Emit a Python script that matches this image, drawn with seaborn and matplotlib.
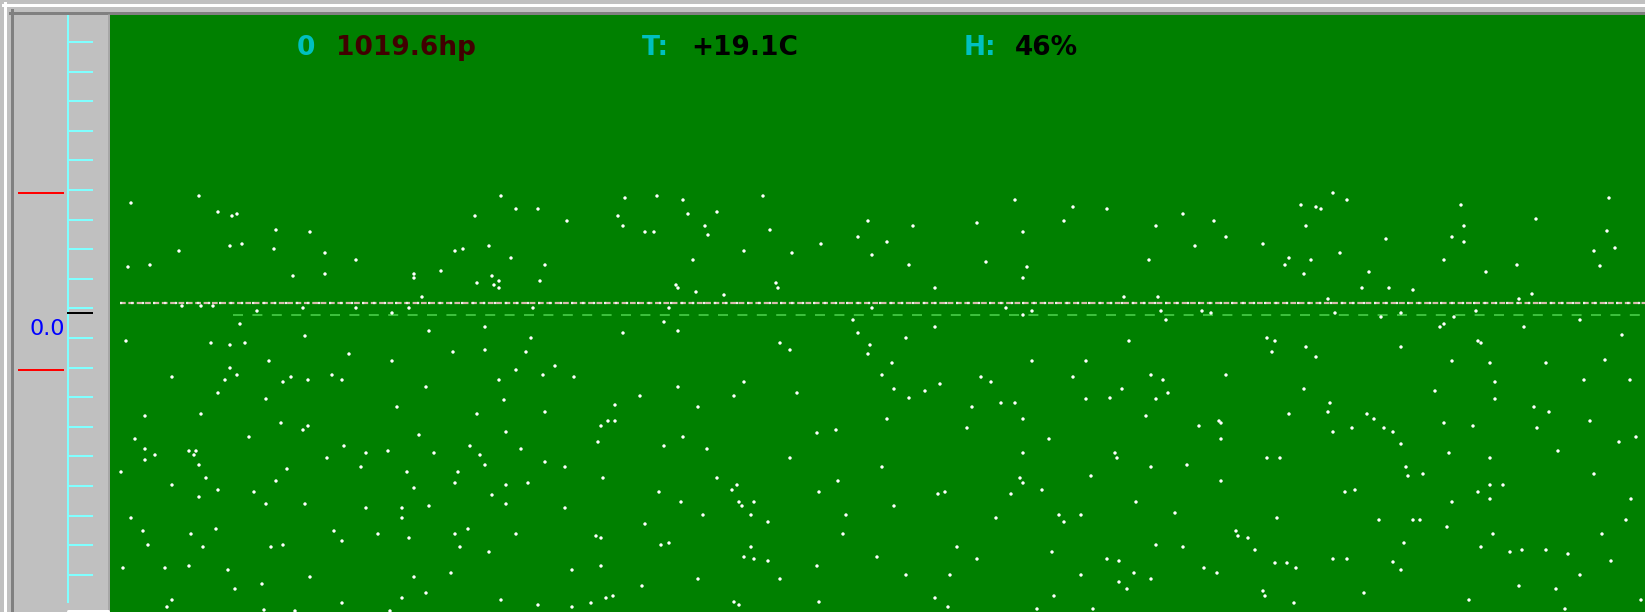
import numpy as np
import pandas as pd
import matplotlib
matplotlib.use("Agg")
import matplotlib.pyplot as plt
import seaborn as sns

# screen is 1645 x 612 px, data units are screen columns / rows
W, H = 1645, 612

# readings in the header line
readings = [("0", "#00c0c0", 297), ("1019.6hp", "#400000", 336),
            ("T:", "#00c0c0", 642), ("+19.1C", "#000000", 691),
            ("H:", "#00c0c0", 964), ("46%", "#000000", 1015)]

# left scale
scale_ticks = list(42 + 29.6 * np.arange(19))
limit_rows = [193, 370]
zero_row = 313
zero_label = "0.0"

# dense trace and reference line
trace_x = [120, 1645]
trace_y = [302.5, 302.5]
ref_x = [233, 1645]
ref_y = [315, 315]

# scattered samples (column, row)
dots = [
    (199,196),(131,203),(218,212),(232,216),(237,214),(276,230),(179,251),(230,246),(242,244),(274,249),
    (128,267),(150,265),(293,276),(182,306),(201,306),(213,306),(257,311),(240,324),(126,341),(211,343),
    (230,345),(245,343),(269,361),(230,368),(172,377),(225,380),(237,375),(283,382),(291,377),(218,393),
    (266,399),(145,416),(201,414),(281,423),(135,439),(249,437),(145,449),(155,455),(189,451),(196,451),
    (194,455),(145,460),(199,465),(121,472),(287,469),(206,478),(276,481),(172,485),(218,490),(254,492),
    (199,497),(266,504),(131,518),(143,531),(191,534),(216,529),(148,545),(203,547),(271,547),(283,545),
    (123,568),(165,568),(189,566),(228,570),(262,584),(235,589),(172,600),(167,607),(264,610),(295,611),
    (501,196),(516,209),(538,209),(475,216),(567,221),(310,232),(325,253),(356,260),(455,251),(463,249),
    (489,246),(511,258),(545,265),(325,274),(414,274),(414,278),(441,271),(492,276),(477,283),(494,285),
    (499,281),(499,288),(540,281),(422,297),(303,308),(356,308),(409,308),(533,308),(392,313),
    (429,331),(485,327),(305,336),(531,338),(349,354),(453,352),(485,350),(526,352),(392,361),(555,366),
    (308,380),(332,375),(342,380),(516,370),(499,380),(543,375),(574,377),(426,387),(504,400),(397,407),
    (477,414),(545,412),(308,426),(303,430),(419,435),(506,432),(344,446),(470,446),(521,449),(598,442),
    (327,458),(366,453),(388,451),(434,453),(480,455),(485,465),(545,462),(565,467),(361,467),(407,472),
    (458,472),(455,483),(506,485),(528,483),(414,488),(492,495),(305,504),(366,508),(402,508),(429,506),
    (506,504),(565,508),(402,518),(334,531),(342,541),(378,534),(409,538),(455,534),(468,529),(516,534),
    (596,536),(460,547),(489,552),(310,577),(414,577),(451,573),(572,570),(426,593),(402,598),(342,603),
    (501,600),(538,605),(572,607),(591,603),(390,611),
    (625,198),(657,196),(683,200),(763,196),(618,216),(623,226),(688,214),(717,212),(705,226),(708,235),
    (645,232),(654,232),(770,230),(868,221),(913,226),(977,223),(1015,200),(1073,207),(1064,221),(1023,232),
    (858,237),(887,242),(821,244),(744,251),(792,253),(693,260),(872,255),(909,265),(986,262),(1027,267),
    (1023,278),(676,285),(678,288),(776,283),(778,288),(696,292),(724,295),(935,288),
    (669,308),(872,308),(1006,308),(1032,311),(1023,315),(664,322),(853,320),(935,327),(623,333),(678,331),
    (858,333),(780,343),(790,350),(870,345),(868,354),(906,338),(892,363),(1032,361),(1086,361),(882,375),
    (981,377),(991,382),(1073,377),(678,387),(744,382),(894,389),(925,391),(940,384),(640,396),(734,396),
    (797,393),(909,398),(1086,399),
    (615,405),(698,407),(608,421),(615,421),(601,426),(683,437),(664,446),(707,449),(817,433),(836,430),
    (790,458),(887,419),(972,407),(1001,403),(1015,403),(1023,419),(967,428),(1049,439),(1023,453),(882,467),
    (603,478),(717,478),(737,485),(732,490),(659,492),(681,502),(739,502),(754,502),(742,506),(703,515),
    (751,515),(768,522),(645,524),(838,481),(819,492),(894,506),(846,515),(843,534),(938,494),(945,492),
    (1020,478),(1023,483),(1042,490),(1011,494),(1091,476),(996,518),(1059,515),(1064,522),(1081,515),(601,538),
    (661,545),(669,543),(751,547),(744,557),(754,559),(768,561),(601,566),(817,566),(877,557),(957,547),
    (977,559),(1052,552),(698,579),(780,579),(642,586),(606,598),(613,596),(734,602),(739,605),(819,602),
    (906,575),(950,575),(1081,575),(935,598),(948,607),(1054,596),(1037,609),(1093,609),
    (1107,209),(1183,214),(1156,226),(1214,221),(1226,237),(1195,246),(1149,260),(1263,244),(1301,205),(1316,207),
    (1321,209),(1333,193),(1347,200),(1306,226),(1289,258),(1285,265),(1311,260),(1304,274),(1340,253),(1386,239),
    (1369,272),(1362,288),(1389,288),(1413,290),(1461,205),(1464,226),(1452,237),(1464,242),(1444,260),(1486,272),
    (1517,265),(1536,219),(1594,251),(1532,294),(1519,299),(1124,297),(1158,297),(1328,299),
    (1161,311),(1166,320),(1202,311),(1211,313),(1335,313),(1381,317),(1401,313),(1454,317),(1476,311),(1440,327),
    (1444,324),(1524,327),(1580,320),(1129,341),(1267,338),(1275,341),(1272,352),(1306,347),(1316,357),(1401,347),
    (1478,341),(1481,343),(1452,361),(1490,363),(1546,363),(1151,375),(1163,380),(1226,375),(1122,389),(1168,393),
    (1110,398),(1156,399),(1304,389),(1435,391),(1495,382),(1584,380),(1495,399),
    (1146,416),(1199,426),(1219,421),(1221,423),(1221,439),(1115,453),(1117,458),(1151,467),(1187,465),(1221,481),
    (1136,502),(1175,513),(1289,414),(1330,403),(1328,412),(1333,432),(1352,428),(1367,414),(1374,419),(1384,428),
    (1393,432),(1401,444),(1267,458),(1280,458),(1406,467),(1408,476),(1423,474),(1345,492),(1355,490),(1444,423),
    (1473,426),(1449,453),(1534,407),(1549,412),(1537,428),(1558,451),(1590,421),(1490,458),(1490,485),(1503,485),
    (1478,492),(1490,499),(1452,502),(1594,474),(1277,518),(1379,520),(1413,520),(1420,520),(1447,527),(1493,534),
    (1236,531),(1238,536),(1248,538),(1255,550),(1156,545),(1183,547),(1107,559),(1119,561),(1134,573),(1119,582),
    (1127,589),(1151,579),(1204,568),(1217,573),(1275,563),(1287,563),(1296,568),(1333,559),(1347,559),(1393,562),
    (1401,570),(1404,543),(1481,547),(1510,552),(1522,550),(1546,550),(1568,554),(1580,575),(1263,591),(1265,596),
    (1294,603),(1364,593),(1469,600),(1519,586),(1556,589),(1565,609),
    (1636,437),(1619,442),(1631,499),(1626,520),(1611,561),(1641,600),(1602,534),(1609,198),
    (1607,231),(1615,248),(1600,266),(1622,335),(1605,360),(1630,380),
]
dot_x, dot_y = np.array(dots, dtype=float).T
df = pd.DataFrame({"col": dot_x, "row": dot_y})

PX = 0.72  # one pixel in points at dpi 100


def px_rect(x0, y0, x1, y1):
    return [x0 / W, 1 - y1 / H, (x1 - x0) / W, (y1 - y0) / H]


fig = plt.figure(figsize=(W / 100, H / 100), dpi=100, facecolor="#c0c0c0")

# window frame
frame = fig.add_axes([0, 0, 1, 1])
frame.set_xlim(0, W)
frame.set_ylim(H, 0)
frame.set_axis_off()
frame.plot([3, W], [5, 5], color="white", lw=3 * PX)
frame.plot([10, W], [12.5, 12.5], color="#808080", lw=3 * PX)
frame.plot([5, 5], [3, H], color="white", lw=3 * PX)
frame.plot([11.5, 11.5], [10, H], color="#808080", lw=3 * PX)
frame.plot([109, 109], [15, H], color="#a0a0a0", lw=1.5 * PX)
frame.plot([68, 108], [611, 611], color="white", lw=3 * PX, solid_capstyle="round")

# left scale panel
ax_l = fig.add_axes(px_rect(13, 15, 108, H))
ax_l.set_xlim(13, 108)
ax_l.set_ylim(H, 15)
ax_l.set_axis_off()
ax_l.vlines(68, 15, 603, color="#80ffff", lw=2 * PX)
ax_l.hlines(scale_ticks, 68, 93, color="#80ffff", lw=2 * PX)
ax_l.hlines(limit_rows, 18, 64, color="#ff0000", lw=2 * PX)
ax_l.hlines(zero_row, 67, 93, color="#000000", lw=2 * PX)
ax_l.text(65, zero_row + 16, zero_label, ha="right", va="center",
          color="#0000ff", fontsize=16)

# main green plot
ax = fig.add_axes(px_rect(110, 15, W, H))
ax.set_facecolor("#008000")
sns.scatterplot(data=df, x="col", y="row", ax=ax, color="white", s=6,
                linewidth=0, edgecolor="none", legend=False, zorder=3)
ax.plot(ref_x, ref_y, color="#3cc03c", lw=2 * PX, dashes=(5, 4.7), zorder=2)
ax.plot(trace_x, trace_y, color="#d8bcae", lw=2.2 * PX, dashes=(2.6, 1.2), zorder=2)
ax.plot(trace_x, trace_y, color="#f4f0ec", lw=2.2 * PX, dashes=(1.0, 4.0), zorder=2)

for label, colour, left in readings:
    ax.text(left, 55, label, color=colour, fontsize=19, fontweight="bold",
            ha="left", va="baseline")

ax.set_xlim(110, W)
ax.set_ylim(H, 15)
ax.set_xticks([])
ax.set_yticks([])
ax.set_xlabel("")
ax.set_ylabel("")
for s in ax.spines.values():
    s.set_visible(False)

fig.savefig("out.png", dpi=100, facecolor=fig.get_facecolor())
